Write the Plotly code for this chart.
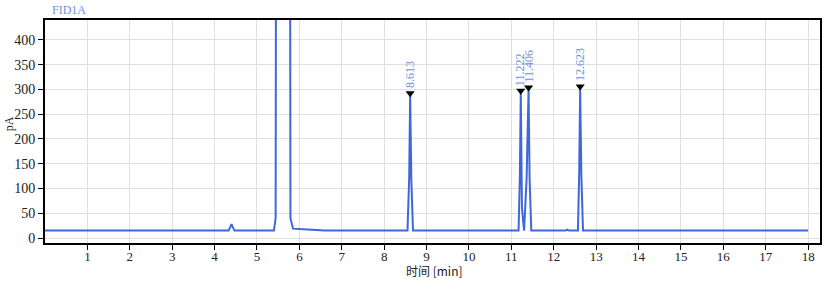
import plotly.graph_objects as go

# chromatogram trace (time in min, signal in pA)
time = [0.0, 4.33, 4.37, 4.40, 4.43, 4.47, 5.40, 5.44, 5.47, 5.76, 5.79, 5.85, 6.2, 6.6,
        8.55, 8.59, 8.613, 8.64, 8.68,
        11.17, 11.20, 11.222, 11.25, 11.30, 11.36, 11.406, 11.43, 11.47,
        12.28, 12.32, 12.36, 12.57, 12.60, 12.623, 12.65, 12.69, 18.0]
signal = [15, 15, 22, 28, 22, 15, 15, 40, 2000, 2000, 40, 19, 17, 15,
          15, 120, 288, 120, 15,
          15, 120, 293, 60, 15, 120, 300, 120, 15,
          15, 17, 15, 15, 130, 302, 130, 15, 15]

peak_rt = [8.613, 11.222, 11.406, 12.623]
peak_height = [288, 293, 300, 302]
peak_labels = ["8.613", "11.222", "11.406", "12.623"]

x_ticks = list(range(1, 19))
y_ticks = [0, 50, 100, 150, 200, 250, 300, 350, 400]

blue = "#3f66dc"
label_blue = "#7090e0"
serif = "Liberation Serif"

fig = go.Figure()
fig.add_trace(go.Scatter(x=time, y=signal, mode="lines",
                         line=dict(color=blue, width=2), hoverinfo="skip"))
fig.add_trace(go.Scatter(x=peak_rt, y=[h + 4 for h in peak_height], mode="markers",
                         marker=dict(symbol="triangle-down", size=8, color="black")))

for rt, h, lab in zip(peak_rt, peak_height, peak_labels):
    fig.add_annotation(x=rt, y=h + 10, text=lab, textangle=-90, showarrow=False,
                       xanchor="center", yanchor="bottom",
                       font=dict(family=serif, size=12, color=label_blue))

fig.add_annotation(xref="paper", yref="paper", x=0.007, y=1.045, text="FID1A",
                   showarrow=False, xanchor="left", yanchor="middle",
                   font=dict(family=serif, size=12, color=label_blue))
fig.add_annotation(xref="paper", yref="paper", x=0.502, y=-0.125, text="时间 [min]",
                   showarrow=False, xanchor="center", yanchor="middle",
                   font=dict(family="Noto Sans CJK SC", size=12, color="#222"))
fig.add_annotation(xref="paper", yref="paper", x=-0.046, y=0.534, text="pA",
                   textangle=-90, showarrow=False, xanchor="center", yanchor="middle",
                   font=dict(family=serif, size=12, color="#222"))

fig.update_layout(
    width=833, height=282,
    margin=dict(l=45, r=13, t=20, b=39),
    paper_bgcolor="white", plot_bgcolor="white",
    showlegend=False,
    font=dict(family=serif, size=14, color="#222"),
)
fig.update_xaxes(range=[0, 18.28], tickvals=x_ticks, ticks="", ticklen=0,
                 tickfont=dict(size=13),
                 minor=dict(tickvals=x_ticks, ticks="outside", ticklen=5, tickcolor="black",
                            showgrid=False),
                 showgrid=True, gridcolor="#e0e0e0", gridwidth=1,
                 showline=True, linecolor="black", linewidth=2, mirror=True,
                 zeroline=False, automargin=False)
fig.update_yaxes(range=[-10, 440], tickvals=y_ticks, ticks="outside", ticklen=5,
                 tickcolor="black", showgrid=True, gridcolor="#e0e0e0", gridwidth=1,
                 showline=True, linecolor="black", linewidth=2, mirror=True,
                 zeroline=False, automargin=False)

fig.write_html("out.html")
